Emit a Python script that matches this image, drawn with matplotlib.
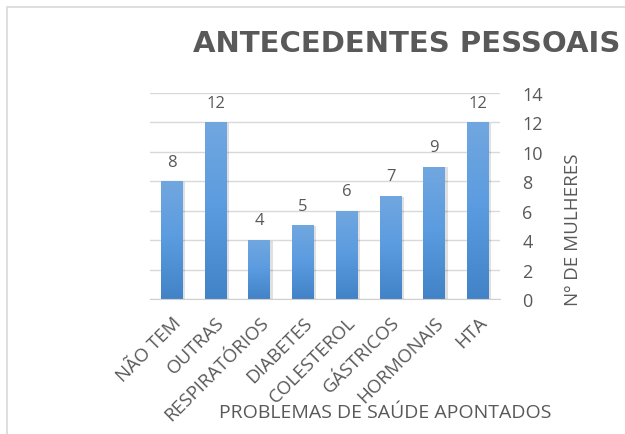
import matplotlib
matplotlib.use("Agg")
import matplotlib.pyplot as plt
import numpy as np
from matplotlib.patches import Rectangle
from matplotlib.colors import LinearSegmentedColormap

categories = ["NÃO TEM", "OUTRAS", "RESPIRATÓRIOS", "DIABETES", "COLESTEROL",
              "GÁSTRICOS", "HORMONAIS", "HTA"]
values = [8, 12, 4, 5, 6, 7, 9, 12]
yticks = [0, 2, 4, 6, 8, 10, 12, 14]

plt.rcParams['font.family'] = ['Open Sans', 'DejaVu Sans']
gray = '#595959'

fig = plt.figure(figsize=(6.25, 4.35), dpi=100)
fig.patch.set_facecolor('white')
# chart area border
fig.patches.append(Rectangle((7/625, -0.1), 1.2, 1 - 8/435 + 0.1, transform=fig.transFigure,
                             fill=False, edgecolor='#d9d9d9', linewidth=1.2))

ax = fig.add_axes([150/625, 135/435, 350/625, 206/435])
x = np.arange(len(categories))
bars = ax.bar(x, values, width=0.5, color='#5b9bd5', zorder=3)

cmap = LinearSegmentedColormap.from_list('g', ['#4283c8', '#5a9be0', '#71a7df'])
grad = np.linspace(0, 1, 256).reshape(-1, 1)
for b in bars:
    bx, by = b.get_x(), b.get_y()
    w, h = b.get_width(), b.get_height()
    # shadow
    ax.add_patch(Rectangle((bx + 0.03, by), w + 0.02, h - 0.05, facecolor='#000000',
                           alpha=0.12, zorder=2, edgecolor='none'))
    im = ax.imshow(grad, extent=(bx, bx + w, by, by + h), origin='lower', cmap=cmap,
                   aspect='auto', zorder=4)
    im.set_clip_path(b)

for xi, v in zip(x, values):
    ax.text(xi, v + 0.8, str(v), ha='center', va='bottom', fontsize=12, color=gray)

ax.set_xlim(-0.5, len(categories) - 0.5)
ax.set_ylim(0, 14)
ax.set_yticks(yticks)
ax.yaxis.tick_right()
ax.tick_params(axis='y', length=0, pad=16, labelsize=13, labelcolor=gray)
ax.grid(axis='y', color='#d9d9d9', linewidth=1, zorder=0)
for s in ['top', 'left', 'right']:
    ax.spines[s].set_visible(False)
ax.spines['bottom'].set_color('#d0d0d0')
ax.spines['bottom'].set_zorder(5)

ax.set_xticks(x)
ax.set_xticklabels(categories, rotation=45, ha='right', rotation_mode='anchor',
                   fontsize=13.5, color=gray)
ax.tick_params(axis='x', length=0, pad=10)

fig.text(193/625, 1 - 44/435, "ANTECEDENTES PESSOAIS", ha='left', va='center',
         fontsize=21, fontweight='bold', color=gray, family='DejaVu Sans')
fig.text(385/625, 1 - 413/435, "PROBLEMAS DE SAÚDE APONTADOS", ha='center', va='center',
         fontsize=14, color=gray)
fig.text(573/625, 1 - 230/435, "Nº DE MULHERES", ha='center', va='center',
         rotation=90, fontsize=13.5, color=gray)

fig.savefig('out.png', dpi=100, facecolor='white')
